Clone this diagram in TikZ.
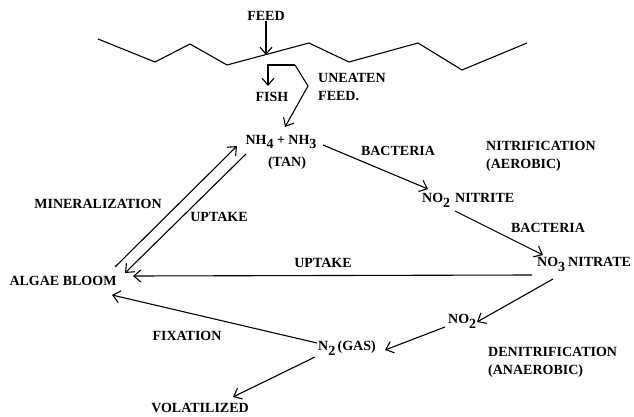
\documentclass[tikz,border=0pt]{standalone}
\usepackage{fontspec}
\setmainfont{Liberation Serif}
\usetikzlibrary{arrows.meta}
\newcommand{\sbs}[1]{\raisebox{-0.35em}{#1}}
\begin{document}
\begin{tikzpicture}[x=1pt,y=-1pt,
  lbl/.style={font=\fontsize{14}{18}\selectfont\bfseries, inner sep=0pt, align=left},
  ln/.style={line width=1.1pt, line join=miter},
  arr/.style={ln,-{Straight Barb[length=7pt,width=12pt]}}]
\useasboundingbox[fill=white] (0,0) rectangle (634,417);
% water surface
\draw[ln] (98,39) -- (155,62) -- (190,44) -- (227,65) -- (309,43) -- (349,62) -- (418,43) -- (462,70) -- (527,43);
% labels
\node[lbl] (feed) at (266,16) {FEED};
\node[lbl] (fish) at (272,97) {FISH};
\node[lbl, anchor=west] (uneaten) at (318,87) {UNEATEN\\FEED.};
\node[lbl] (nh) at (281,142) {NH\sbs{4} + NH\sbs{3}};
\node[lbl] (tan) at (287,163) {(TAN)};
\node[lbl] (bact1) at (398,151) {BACTERIA};
\node[lbl, anchor=west] (nitrif) at (486,156) {NITRIFICATION\\(AEROBIC)};
\node[lbl, anchor=west] (no2) at (422,200) {NO\sbs{2}};
\node[lbl, anchor=west] (nitrite) at (455,198) {NITRITE};
\node[lbl] (bact2) at (548,228) {BACTERIA};
\node[lbl, anchor=west] (no3) at (537,264) {NO\sbs{3}};
\node[lbl, anchor=west] (nitrate) at (568,262) {NITRATE};
\node[lbl] (uptake2) at (323,263) {UPTAKE};
\node[lbl] (algae) at (63,281) {ALGAE BLOOM};
\node[lbl] (mineral) at (98,204) {MINERALIZATION};
\node[lbl] (uptake1) at (219,217) {UPTAKE};
\node[lbl] (fixation) at (187,336) {FIXATION};
\node[lbl, anchor=west] (n2) at (318,348) {N\sbs{2}\,(GAS)};
\node[lbl, anchor=west] (no2b) at (448,321) {NO\sbs{2}};
\node[lbl, anchor=west] (denit) at (488,362) {DENITRIFICATION\\(ANAEROBIC)};
\node[lbl] (volat) at (200,408) {VOLATILIZED};
% connector points
\coordinate (surf) at (266,55);
\coordinate (bend1) at (295,65);
\coordinate (bend2) at (308,86);
\coordinate (corner) at (268,65);
\coordinate (fishtip) at (268,86);
\coordinate (nhtip) at (285,127);
\coordinate (nhR) at (323,145);
\coordinate (no2tip) at (428,189);
\coordinate (no2R) at (455,211);
\coordinate (no3tip) at (543,255);
\coordinate (no3L) at (532,275);
\coordinate (algaeR) at (133,276);
\coordinate (minA) at (115,267);
\coordinate (minB) at (237,146);
\coordinate (upA) at (246,154);
\coordinate (upB) at (125,273);
\coordinate (no3B) at (553,279);
\coordinate (no2btip) at (477,322);
\coordinate (no2bL) at (445,327);
\coordinate (n2tip) at (385,350);
\coordinate (n2L) at (317,343);
\coordinate (algaeB) at (112,295);
\coordinate (n2B) at (315,357);
\coordinate (voltip) at (233,397);
% connectors
\draw[arr] (feed.south) -- (surf);
\draw[arr] (bend1) -- (corner) -- (fishtip);
\draw[arr] (bend1) -- (bend2) -- (nhtip);
\draw[arr] (nhR) -- (no2tip);
\draw[arr] (no2R) -- (no3tip);
\draw[arr] (no3L) -- (algaeR);
\draw[arr] (minA) -- (minB);
\draw[arr] (upA) -- (upB);
\draw[arr] (no3B) -- (no2btip);
\draw[arr] (no2bL) -- (n2tip);
\draw[arr] (n2L) -- (algaeB);
\draw[arr] (n2B) -- (voltip);
\end{tikzpicture}
\end{document}
